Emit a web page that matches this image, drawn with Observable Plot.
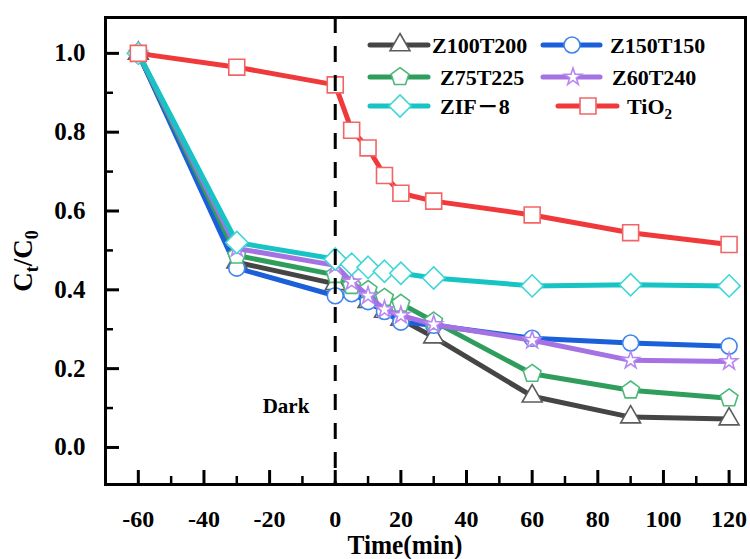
<!DOCTYPE html>
<html><head><meta charset="utf-8">
<script src="https://cdn.jsdelivr.net/npm/d3@7"></script>
<script src="https://cdn.jsdelivr.net/npm/@observablehq/plot@0.6"></script>
<style>
body{margin:0;background:#fff}
#chart{position:relative;width:750px;height:559px}
</style>
</head><body><div id="chart"></div>
<script>
// ---- data ----
const times = [-60, -30, 0, 5, 10, 15, 20, 30, 60, 90, 120];
const seriesNames = ["Z100T200", "Z150T150", "Z75T225", "Z60T240", "ZIF－8", "TiO2"];
const z100t200 = [1.0, 0.47, 0.415, 0.395, 0.37, 0.345, 0.325, 0.28, 0.13, 0.077, 0.072];
const z150t150 = [1.0, 0.455, 0.385, 0.39, 0.37, 0.345, 0.318, 0.31, 0.277, 0.265, 0.257];
const z75t225  = [1.0, 0.487, 0.438, 0.41, 0.40, 0.38, 0.365, 0.32, 0.187, 0.145, 0.125];
const z60t240  = [1.0, 0.505, 0.462, 0.42, 0.385, 0.35, 0.335, 0.312, 0.272, 0.221, 0.218];
const zif8     = [1.0, 0.52, 0.478, 0.465, 0.457, 0.447, 0.442, 0.43, 0.41, 0.413, 0.41];
const tio2     = [1.0, 0.965, 0.92, 0.805, 0.76, 0.69, 0.645, 0.625, 0.59, 0.545, 0.515];
const seriesValues = [z100t200, z150t150, z75t225, z60t240, zif8, tio2];
const xMajorTicks = [-60, -40, -20, 0, 20, 40, 60, 80, 100, 120];
const xMinorTicks = [-50, -30, -10, 10, 30, 50, 70, 90, 110];
const yMajorTicks = [0, 0.2, 0.4, 0.6, 0.8, 1.0];
const yMinorTicks = [0.1, 0.3, 0.5, 0.7, 0.9];
const xDomain = [-70, 125];
const yDomain = [-0.094, 1.091];
const darkLabel = {x: -15, y: 0.105, text: "Dark"};
const darkTime = 0;

// ---- layout ----
const W = 750, H = 559, mL = 105, mR = 5, mT = 17, mB = 75;

const pentagon = {
  draw(ctx, size) {
    const R = Math.sqrt(size / Math.PI);
    for (let i = 0; i < 5; i++) {
      const a = -Math.PI / 2 + i * 2 * Math.PI / 5;
      const x = R * Math.cos(a), y = R * Math.sin(a);
      if (i) ctx.lineTo(x, y); else ctx.moveTo(x, y);
    }
    ctx.closePath();
  }
};

const styles = [
  {line: "#454545", mark: "#5c5c5c", symbol: "triangle", r: 7.4},
  {line: "#1b5fd9", mark: "#4186ee", symbol: "circle", r: 8},
  {line: "#2f9e5c", mark: "#4bb97a", symbol: pentagon, r: 9.3},
  {line: "#a472e3", mark: "#b787f0", symbol: "star", r: 5.4},
  {line: "#17c3c3", mark: "#40d6d6", symbol: "diamond2", r: 10},
  {line: "#f0393b", mark: "#f26565", symbol: "square", r: 9}
];

const tables = seriesNames.map((name, i) => times.map((t, j) => ({name, t, v: seriesValues[i][j]})));

const marks = [];
tables.forEach((data, i) => {
  const s = styles[i];
  marks.push(Plot.line(data, {x: "t", y: "v", stroke: s.line, strokeWidth: 5, strokeLinejoin: "round"}));
  marks.push(Plot.dot(data, {x: "t", y: "v", symbol: s.symbol, r: s.r, fill: "white", stroke: s.mark, strokeWidth: 1.6}));
});

const chart = Plot.plot({
  width: W,
  height: H,
  marginLeft: mL,
  marginRight: mR,
  marginTop: mT,
  marginBottom: mB,
  style: {fontFamily: "'Liberation Serif', 'Times New Roman', serif", fontSize: "24px", fontWeight: "bold"},
  x: {domain: xDomain, label: null},
  y: {domain: yDomain, label: null},
  marks: [
    ...marks,
    Plot.ruleX([darkTime], {stroke: "black", strokeWidth: 3, strokeDasharray: "16,13"}),
    Plot.text([darkLabel], {x: "x", y: "y", text: "text", fontSize: 21, fontWeight: "bold", fill: "black"}),
    // inward ticks
    Plot.axisX(xMajorTicks, {anchor: "bottom", tickSize: 14, dy: -14, stroke: "#000", strokeWidth: 3, tickFormat: () => "", label: null}),
    Plot.axisX(xMinorTicks, {anchor: "bottom", tickSize: 8, dy: -8, stroke: "#000", strokeWidth: 2.5, tickFormat: () => "", label: null}),
    Plot.axisY(yMajorTicks, {anchor: "left", tickSize: 14, dx: 14, stroke: "#000", strokeWidth: 3, tickFormat: () => "", label: null}),
    Plot.axisY(yMinorTicks, {anchor: "left", tickSize: 8, dx: 8, stroke: "#000", strokeWidth: 2.5, tickFormat: () => "", label: null}),
    // tick labels
    Plot.axisX(xMajorTicks, {anchor: "bottom", tickSize: 0, tickPadding: 25, tickFormat: d => String(d), label: null, fill: "black"}),
    Plot.axisY(yMajorTicks, {anchor: "left", tickSize: 0, tickPadding: 20, tickFormat: d3.format(".1f"), label: null, fill: "black", fontSize: 25}),
    Plot.frame({stroke: "black", strokeWidth: 3})
  ]
});
document.getElementById("chart").appendChild(chart);

// ---- titles & legend ----
const svg = d3.select(chart);
const serif = "'Liberation Serif', 'Times New Roman', 'Noto Sans CJK SC', serif";

const yt = svg.append("text")
  .attr("transform", "translate(32,261) rotate(-90)")
  .attr("text-anchor", "middle")
  .attr("font-family", serif).attr("font-weight", "bold").attr("font-size", 27).attr("fill", "black");
yt.append("tspan").text("C");
yt.append("tspan").attr("font-size", 18).attr("dy", 6).text("t");
yt.append("tspan").attr("dy", -6).text("/C");
yt.append("tspan").attr("font-size", 18).attr("dy", 6).text("0");

svg.append("text")
  .attr("x", 405).attr("y", 554)
  .attr("text-anchor", "middle")
  .attr("font-family", serif).attr("font-weight", "bold").attr("font-size", 28)
  .attr("textLength", 115).attr("lengthAdjust", "spacingAndGlyphs")
  .attr("fill", "black")
  .text("Time(min)");

const legendPos = [
  {x1: 370, x2: 428, mx: 400, tx: 432, y: 45},
  {x1: 543, x2: 600, mx: 572, tx: 610, y: 45},
  {x1: 370, x2: 428, mx: 400, tx: 440, y: 77},
  {x1: 543, x2: 600, mx: 573, tx: 612, y: 77},
  {x1: 370, x2: 428, mx: 400, tx: 440, y: 106},
  {x1: 558, x2: 617, mx: 588, tx: 627, y: 106}
];
const symMap = {triangle: d3.symbolTriangle, circle: d3.symbolCircle, star: d3.symbolStar, diamond2: d3.symbolDiamond2, square: d3.symbolSquare};
const lg = svg.append("g");
seriesNames.forEach((name, i) => {
  const p = legendPos[i], s = styles[i];
  lg.append("line").attr("x1", p.x1).attr("x2", p.x2).attr("y1", p.y).attr("y2", p.y)
    .attr("stroke", s.line).attr("stroke-width", 5).attr("stroke-linecap", "round");
  const type = typeof s.symbol === "string" ? symMap[s.symbol] : s.symbol;
  lg.append("path").attr("d", d3.symbol(type, Math.PI * s.r * s.r)())
    .attr("transform", `translate(${p.mx},${p.y})`)
    .attr("fill", "white").attr("stroke", s.mark).attr("stroke-width", 1.6);
  const t = lg.append("text").attr("x", p.tx).attr("y", p.y + 8)
    .attr("text-anchor", "start")
    .attr("font-family", serif).attr("font-weight", "bold").attr("font-size", 22).attr("fill", "black");
  if (name === "TiO2") {
    t.append("tspan").text("TiO");
    t.append("tspan").attr("font-size", 15).attr("dy", 5).text("2");
  } else {
    t.text(name);
  }
});
</script>
</body></html>
